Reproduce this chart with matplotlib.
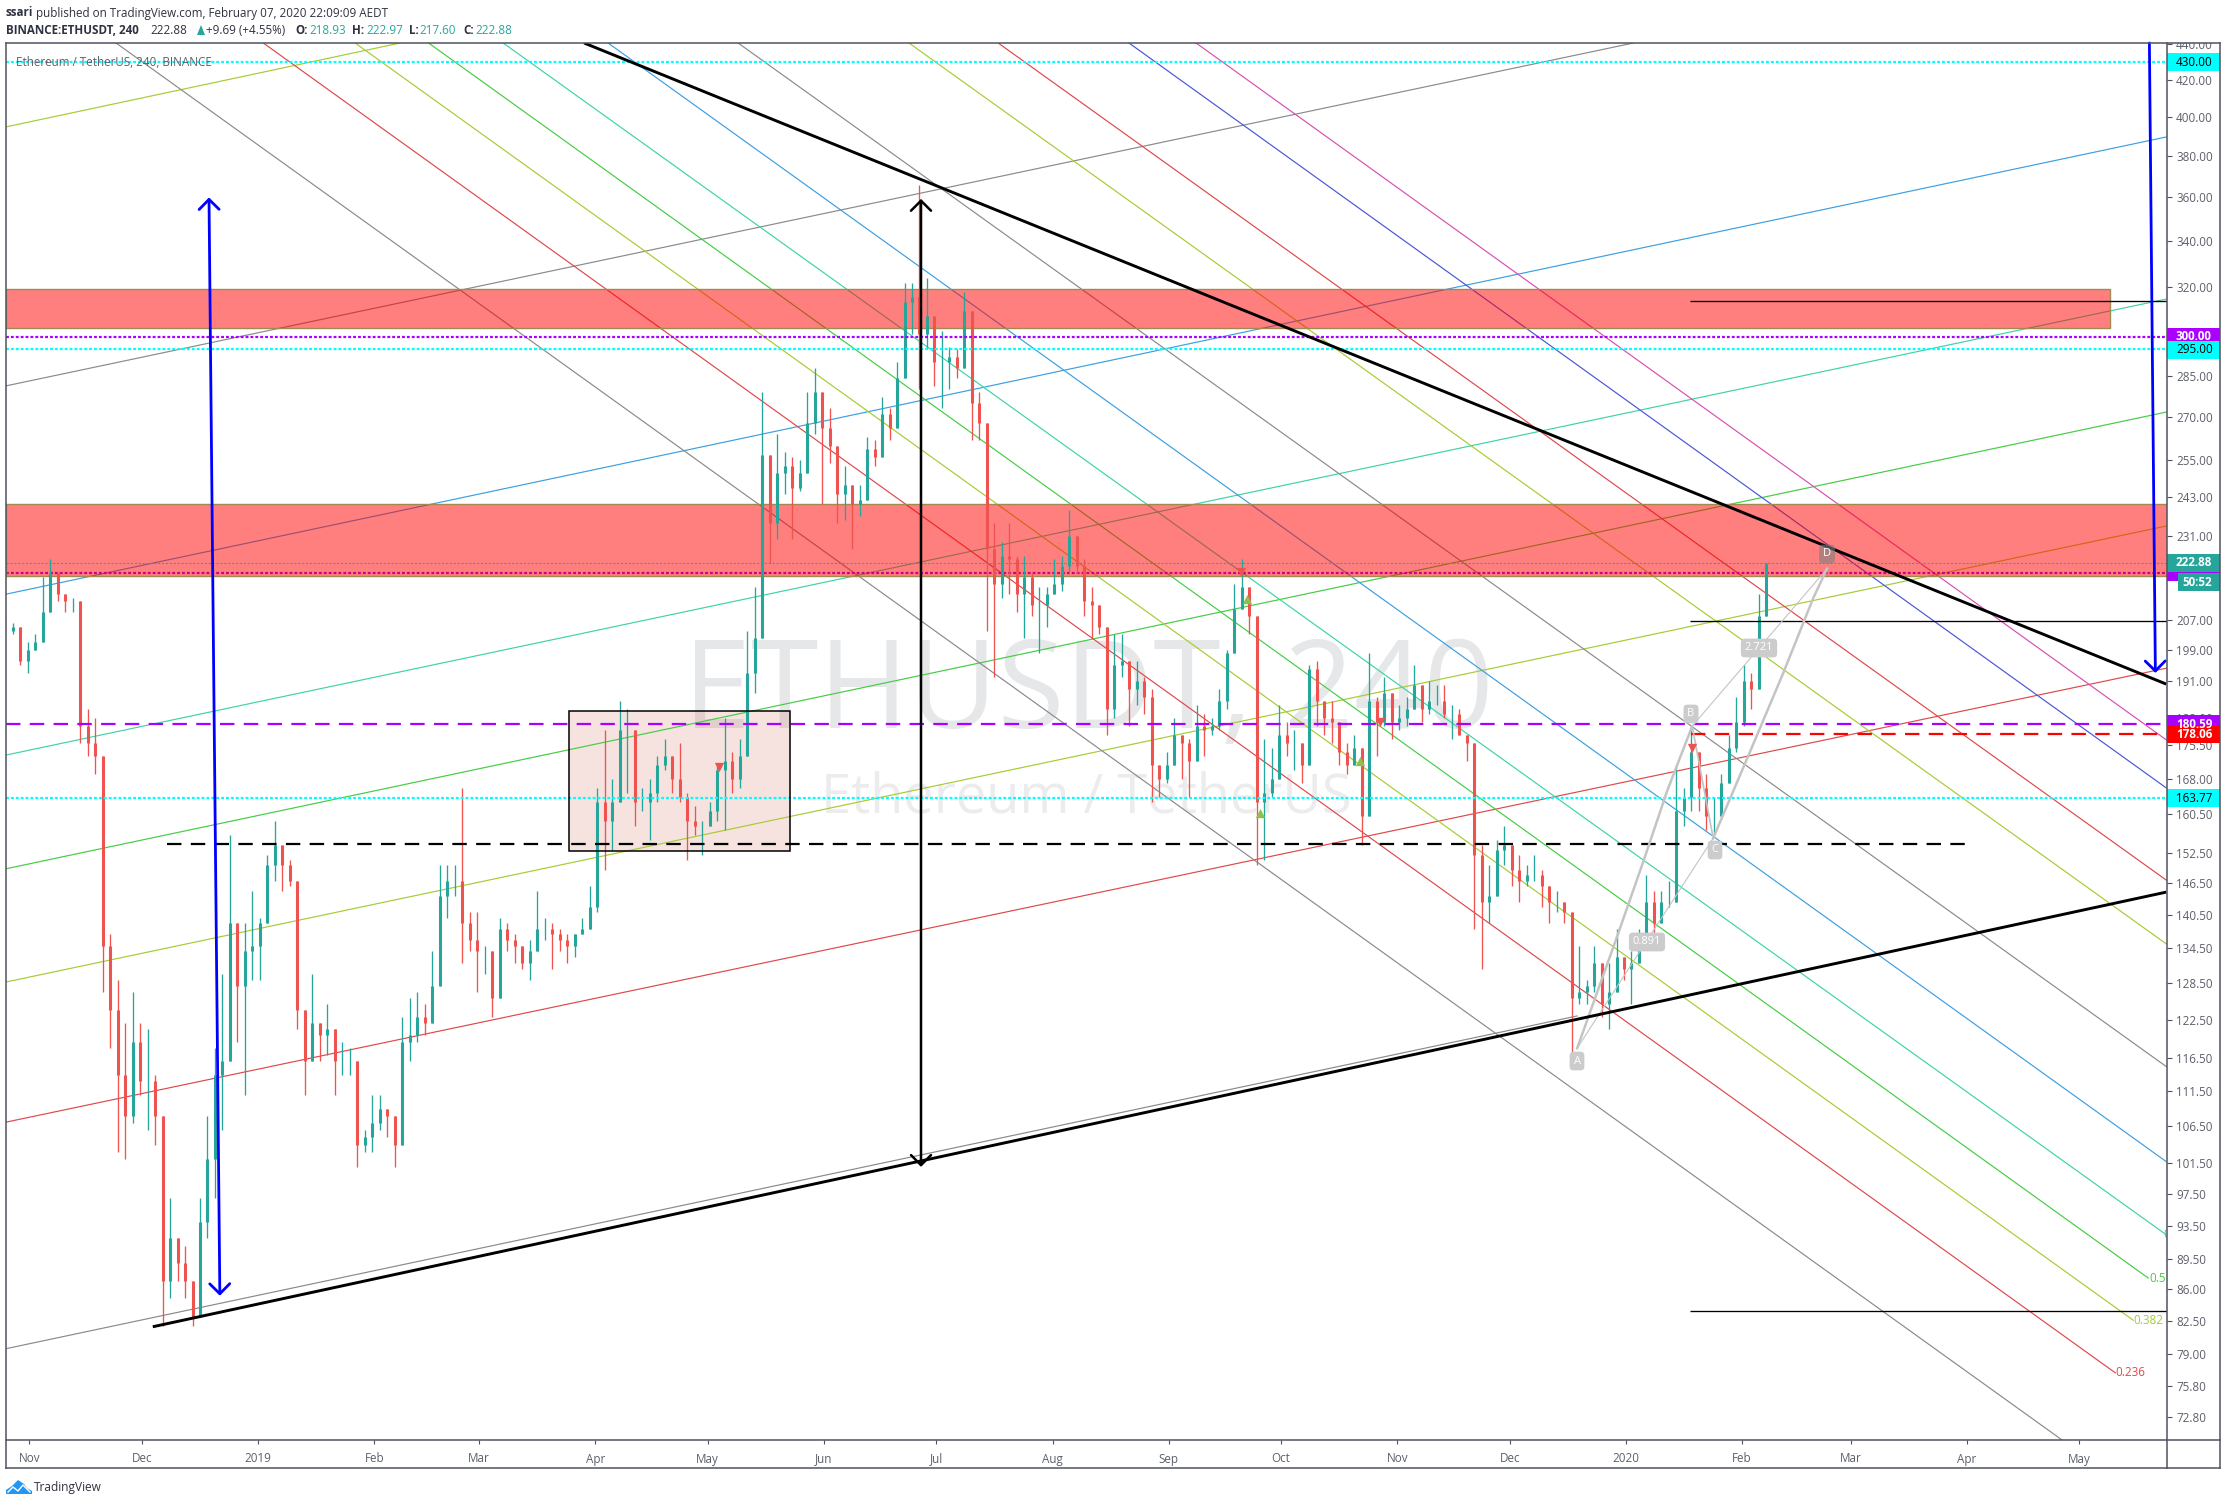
"""
plot.py - ETHUSDT 4h chart with fib fans, zones and ABCD pattern drawn on a log price axis.
"""

import matplotlib
matplotlib.use("Agg")
import matplotlib.dates as mdates
import matplotlib.pyplot as plt
import numpy as np
import pandas as pd
from matplotlib.lines import Line2D
from matplotlib.patches import Polygon, Rectangle
from matplotlib.ticker import FixedLocator, NullLocator
from matplotlib.transforms import Affine2D

W, H = 2227, 1505
FONT = "Open Sans"
plt.rcParams["font.family"] = [FONT, "DejaVu Sans"]

UP = "#26a69a"
DOWN = "#ef5350"
FRAME = "#50535e"
LABEL = "#5d606b"

# candles every two days, open is the previous close
highs = [
    209, 206, 205, 201, 203, 219, 224, 220, 214, 213,
    209, 184, 182, 169, 137, 129, 122, 127, 122, 121,
    114, 106, 97, 92, 91, 87, 97, 108, 118, 130,
    156, 135, 139, 145, 140, 152, 159, 154, 151, 134,
    124, 130, 122, 125, 120, 119, 118, 116, 106, 111,
    111, 109, 107, 123, 126, 127, 125, 134, 150, 150,
    150, 166, 141, 141, 135, 133, 140, 139, 137, 135,
    136, 145, 140, 139, 138, 137, 137, 140, 146, 166,
    179, 168, 186, 184, 168, 166, 168, 173, 177, 172,
    176, 165, 162, 159, 163, 171, 182, 174, 177, 204,
    216, 279, 246, 264, 258, 256, 255, 279, 288, 275,
    273, 253, 253, 247, 247, 263, 262, 277, 273, 290,
    322, 322, 366, 324, 305, 302, 296, 295, 318, 308,
    279, 261, 235, 229, 235, 225, 225, 220, 216, 216,
    224, 225, 239, 231, 224, 216, 211, 191, 203, 203,
    195, 196, 192, 189, 171, 174, 182, 178, 177, 185,
    183, 182, 189, 199, 217, 224, 213, 203, 177, 175,
    185, 181, 179, 176, 195, 196, 185, 186, 179, 176,
    178, 173, 198, 187, 192, 185, 185, 187, 195, 188,
    191, 190, 190, 185, 184, 177, 174, 154, 150, 155,
    158, 152, 152, 150, 152, 149, 145, 145, 143, 134,
    135, 129, 135, 128, 132, 138, 133, 134, 138, 148,
    145, 145, 147, 171, 166, 180, 170, 169, 164, 169,
    178, 187, 195, 193, 214, 222.97,
]
lows = [
    203, 203, 195, 193, 199, 207, 212, 212, 209, 209,
    176, 173, 169, 127, 118, 103, 102, 107, 111, 106,
    104, 82, 85, 87, 85, 82, 84, 92, 97, 106,
    120, 119, 111, 129, 129, 143, 147, 145, 146, 121,
    111, 116, 116, 117, 111, 114, 114, 101, 103, 103,
    106, 105, 101, 104, 116, 119, 120, 122, 131, 140,
    144, 132, 134, 127, 130, 123, 136, 134, 132, 131,
    129, 135, 136, 131, 134, 132, 133, 137, 140, 141,
    149, 153, 167, 165, 158, 161, 155, 163, 170, 165,
    163, 151, 156, 152, 158, 159, 157, 165, 166, 181,
    188, 219, 223, 230, 244, 230, 245, 263, 264, 241,
    254, 235, 236, 227, 237, 246, 253, 263, 262, 271,
    298, 301, 280, 295, 281, 273, 280, 284, 301, 262,
    262, 204, 192, 213, 214, 209, 202, 208, 198, 205,
    214, 215, 220, 220, 208, 202, 203, 178, 182, 192,
    180, 185, 183, 163, 164, 167, 173, 168, 164, 176,
    173, 178, 179, 184, 202, 212, 203, 150, 151, 164,
    172, 173, 170, 167, 180, 180, 178, 176, 171, 169,
    171, 154, 160, 173, 180, 177, 179, 180, 185, 181,
    183, 185, 182, 177, 178, 172, 138, 131, 139, 148,
    150, 146, 143, 146, 147, 142, 139, 141, 139, 116,
    125, 125, 127, 123, 121, 130, 129, 125, 133, 138,
    135, 141, 142, 143, 158, 161, 161, 157, 156, 161,
    170, 174, 180, 184, 190, 208,
]
closes = [
    204, 205, 196, 199, 201, 209, 220, 214, 212, 212,
    180, 176, 173, 135, 124, 114, 108, 119, 113, 113,
    108, 87, 92, 89, 87, 83, 94, 102, 114, 116,
    139, 128, 134, 135, 139, 150, 154, 150, 147, 124,
    116, 122, 120, 121, 116, 116, 116, 104, 105, 107,
    109, 108, 104, 119, 120, 123, 122, 128, 144, 147,
    147, 139, 136, 134, 134, 126, 138, 136, 135, 132,
    134, 138, 138, 137, 136, 135, 137, 138, 142, 163,
    159, 163, 179, 179, 163, 163, 165, 171, 173, 168,
    164, 159, 158, 158, 161, 170, 172, 168, 173, 193,
    202, 257, 235, 251, 253, 246, 251, 268, 279, 266,
    260, 244, 247, 241, 242, 259, 256, 271, 266, 284,
    314, 316, 301, 308, 290, 290, 292, 288, 310, 275,
    268, 227, 217, 225, 224, 214, 219, 211, 211, 214,
    217, 222, 231, 222, 212, 211, 205, 184, 195, 196,
    189, 191, 187, 171, 168, 171, 178, 176, 172, 180,
    179, 180, 186, 198, 210, 216, 208, 163, 165, 168,
    178, 176, 176, 171, 194, 186, 182, 181, 174, 171,
    175, 160, 186, 181, 188, 181, 182, 184, 190, 184,
    186, 186, 183, 183, 178, 176, 152, 143, 144, 153,
    154, 149, 147, 148, 148, 146, 143, 143, 141, 126,
    127, 128, 132, 125, 127, 133, 131, 132, 136, 143,
    139, 143, 143, 161, 164, 174, 166, 160, 160, 167,
    175, 181, 191, 189, 208, 222.88,
]

# rising fan: price at the left and at the right edge of the pane
up_left = [214, 173.3, 149.3, 128.7, 107.1]
up_right = [389.7, 315.1, 271.7, 234, 194.2]
up_colors = ["#3b9fe0", "#3dd3a5", "#44cc44", "#a5cc32", "#e04848"]

# other rising lines: day after 2018-11-01 and price at both ends
rise_days = [(-6.27, 428), (-6, 98.9), (-6, 413)]
rise_prices = [(281.2, 440.8), (395, 440.8), (79.6, 123.1)]
rise_colors = ["#8a8a8a", "#a5cc32", "#8a8a8a"]

# falling fan: start day at the top of the pane, end day and end price
fall_start = [23.1, 62.4, 86.9, 106.5, 126.4, 154.4, 189.1, 234.7, 258.5, 293.4, 311.3]
fall_end_day = [542.4, 556.6, 561.4, 565.4, 570.2, 570.2, 570.2, 570.2, 570.2, 570.2, 570.2]
fall_end_price = [70.6, 77.1, 82.6, 87.3, 92.4, 101.7, 115.2, 135.3, 147.1, 166, 176.8]
fall_colors = ["#8a8a8a", "#e04848", "#a5cc32", "#44cc44", "#3dd3a5", "#3b9fe0",
               "#8a8a8a", "#a5cc32", "#e04848", "#4a55d8", "#d94fb2"]

# thick trend lines
trend_days = [(32.9, 570.2), (148, 570.2)]
trend_prices = [(81.9, 144.8), (440.8, 190.2)]

# price levels
dotted_levels = [430, 295, 163.77]
purple_dotted = [300, 220]
last_price = 222.88
purple_dashed = 180.59
red_dashed = 178.06
black_dashed = 154.3
thin_levels = [314.3, 206.6, 83.6]

# zones
zone_prices = [(303.4, 319.3), (219.3, 240.8)]
zone_days = [(-6.27, 555.3), (-6.27, 570.4)]
range_box_days = (144, 203)
range_box_prices = (152.9, 183.7)

# ABCD pattern
ab_days = [413, 423.6, 430.6, 437, 443.7]
ab_prices = [118, 136.5, 150.6, 165.3, 180]
cd_days = [449.3, 459.2, 468, 476, 479.7]
cd_prices = [155.4, 174.2, 193, 212.9, 221.3]

# signal markers
green_days = [324.8, 328.4, 355]
green_prices = [212.6, 160.7, 172]
red_days = [323.3, 360.4, 184, 443.7]
red_prices = [220.3, 181, 170.5, 174.9]

price_ticks = [440, 420, 400, 380, 360, 340, 320, 285, 270, 255, 243, 231, 207, 199, 191,
               182, 175.5, 168, 160.5, 152.5, 146.5, 140.5, 134.5, 128.5, 122.5, 116.5,
               111.5, 106.5, 101.5, 97.5, 93.5, 89.5, 86, 82.5, 79, 75.8, 72.8]
month_ticks = ["2018-11-01", "2018-12-01", "2019-01-01", "2019-02-01", "2019-03-01",
               "2019-04-01", "2019-05-01", "2019-06-01", "2019-07-01", "2019-08-01",
               "2019-09-01", "2019-10-01", "2019-11-01", "2019-12-01", "2020-01-01",
               "2020-02-01", "2020-03-01", "2020-04-01", "2020-05-01"]
month_labels = ["Nov", "Dec", "2019", "Feb", "Mar", "Apr", "May", "Jun", "Jul", "Aug",
                "Sep", "Oct", "Nov", "Dec", "2020", "Feb", "Mar", "Apr", "May"]

BASE = mdates.date2num(pd.Timestamp("2018-11-01"))


def day(d):
    return BASE + np.asarray(d, dtype=float)


def draw_candles(ax):
    c = np.array(closes, dtype=float)
    o = np.r_[c[0], c[:-1]]
    hi = np.maximum(np.array(highs, dtype=float), np.maximum(o, c))
    lo = np.minimum(np.array(lows, dtype=float), np.minimum(o, c))
    x = mdates.date2num(pd.date_range("2018-10-25 12:00", periods=len(c), freq="2D"))
    colors = [UP if a >= b else DOWN for a, b in zip(c, o)]
    ax.vlines(x, lo, hi, colors=colors, lw=0.95, zorder=4)
    ax.vlines(x, np.minimum(o, c), np.maximum(o, c), colors=colors, lw=2.2, zorder=4)


def draw_lines(ax):
    for a, b, col in zip(up_left, up_right, up_colors):
        ax.plot(day([-6.27, 570.2]), [a, b], color=col, lw=0.85, zorder=2)
    for d, p, col in zip(rise_days, rise_prices, rise_colors):
        ax.plot(day(d), p, color=col, lw=0.85, zorder=2)
    for s, e, p, col in zip(fall_start, fall_end_day, fall_end_price, fall_colors):
        ax.plot(day([s, e]), [440.8, p], color=col, lw=0.85, zorder=2)
    for d, p in zip(trend_days, trend_prices):
        ax.plot(day(d), p, color="black", lw=2.1, zorder=6, solid_capstyle="butt")


def draw_levels(ax):
    left, right = ax.get_xlim()
    dots = (0, (1.3, 0.9))
    dash = (0, (6.5, 4.2))
    for p in dotted_levels:
        ax.hlines(p, left, right, color="#00ffff", lw=1.6, linestyles=[dots], zorder=5)
    ax.hlines(purple_dotted[0], left, right, color="#aa00ff", lw=1.6, linestyles=[dots], zorder=5)
    ax.hlines(purple_dotted[1], left, right, color="#aa00ff", lw=1.6, linestyles=[dots], zorder=2.5)
    ax.hlines(last_price, left, right, color=UP, lw=0.8, linestyles=[(0, (2, 1.5))], zorder=5)
    ax.hlines(purple_dashed, left, right, color="#aa00ff", lw=1.6, linestyles=[dash], zorder=5)
    ax.hlines(red_dashed, day(443.5), right, color="#ff0000", lw=1.6, linestyles=[dash], zorder=5)
    ax.hlines(black_dashed, day(36.7), day(518), color="black", lw=1.6, linestyles=[dash], zorder=5)
    for p in thin_levels:
        ax.hlines(p, day(443.2), right, color="black", lw=0.95, zorder=5)


def draw_zones(ax):
    for d, p in zip(zone_days, zone_prices):
        ax.add_patch(Rectangle((day(d[0]), p[0]), d[1] - d[0], p[1] - p[0],
                               facecolor=(1, 0, 0, 0.5), edgecolor="#a08a50", lw=1, zorder=3))
    d, p = range_box_days, range_box_prices
    ax.add_patch(Rectangle((day(d[0]), p[0]), d[1] - d[0], p[1] - p[0],
                           facecolor=(0.78, 0.33, 0.25, 0.16), edgecolor="none", zorder=1.5))
    ax.add_patch(Rectangle((day(d[0]), p[0]), d[1] - d[0], p[1] - p[0],
                           facecolor="none", edgecolor="black", lw=1.1, zorder=5))


def draw_arrows(ax):
    head = "<->,head_length=0.72,head_width=0.72"
    one_head = "->,head_length=0.72,head_width=0.72"
    ax.annotate("", xy=(day(237.9), 101), xytext=(day(237.9), 359.3), zorder=7,
                arrowprops=dict(arrowstyle=head, color="black", lw=1.8, shrinkA=0, shrinkB=0,
                                mutation_scale=10))
    ax.annotate("", xy=(day(50.8), 85.3), xytext=(day(47.9), 360), zorder=7,
                arrowprops=dict(arrowstyle=head, color="#0000ff", lw=2.0, shrinkA=0, shrinkB=0,
                                mutation_scale=10))
    ax.annotate("", xy=(day(567.3), 193), xytext=(day(565.7), 440.8), zorder=7,
                arrowprops=dict(arrowstyle=one_head, color="#0000ff", lw=2.0, shrinkA=0, shrinkB=0,
                                mutation_scale=10))


def draw_pattern(ax, px):
    grey = "#c4c4c4"
    ax.plot(day(ab_days), ab_prices, color=grey, lw=1.8, zorder=5)
    ax.plot(day(cd_days), cd_prices, color=grey, lw=1.8, zorder=5)
    ax.plot(day([ab_days[0], cd_days[0]]), [ab_prices[0], cd_prices[0]], color=grey, lw=0.8, zorder=5)
    ax.plot(day([ab_days[-1], cd_days[-1]]), [ab_prices[-1], cd_prices[-1]], color=grey, lw=0.8, zorder=5)
    ax.plot(day([ab_days[-1], cd_days[0]]), [ab_prices[-1], cd_prices[0]], color=grey, lw=1.2, zorder=5)
    boxes = [("A", 1577, 1061), ("B", 1691, 714), ("C", 1715, 850),
             ("0.891", 1647, 942), ("2.721", 1759, 648)]
    for s, x, y in boxes:
        ax.text(x, y, s, transform=px, color="white", fontsize=8, ha="center", va="center", zorder=8,
                bbox=dict(boxstyle="round,pad=0.35", fc="#cccccc", ec="none"))
    ax.text(1827, 554, "D", transform=px, color="white", fontsize=8, ha="center", va="center", zorder=8,
            bbox=dict(boxstyle="round,pad=0.35", fc=(0.5, 0.5, 0.5, 0.6), ec="none"))
    ax.scatter(day(green_days), green_prices, marker="^", s=45, color="#8bc34a", lw=0, zorder=5)
    ax.scatter(day(red_days), red_prices, marker="v", s=45, color="#ef5350", lw=0, zorder=5)


def draw_watermark(ax, px):
    ax.text(1088, 696, "ETHUSDT, 240", transform=px, color="#e6e7e9", fontsize=88,
            ha="center", va="center", zorder=0.5)
    ax.text(1086, 798, "Ethereum / TetherUS", transform=px, color="#ececee", fontsize=39,
            ha="center", va="center", zorder=0.5)


def draw_fib_labels(ax, px):
    labels = [("0.236", 2115, 1372, "#e04848"), ("0.382", 2133, 1320, "#a5cc32"),
              ("0.5", 2149, 1278, "#44cc44"), ("0.618", 2163, 1235, "#3dd3a5")]
    for s, x, y, col in labels:
        ax.text(x, y, s, transform=px, color=col, fontsize=8.4, ha="left", va="center",
                clip_on=True, zorder=5)


def draw_header(fig, px):
    y1, y2 = 13, 30
    dark = "#2f3240"
    parts = [(6, y1, "ssari", dark, "bold"),
             (36, y1, "published on TradingView.com, February 07, 2020 22:09:09 AEDT", dark, "normal"),
             (6, y2, "BINANCE:ETHUSDT, 240", dark, "bold"),
             (150, y2, "222.88", dark, "normal"),
             (206, y2, "+9.69 (+4.55%)", dark, "normal"),
             (295, y2, "O:", dark, "bold"), (309, y2, "218.93", UP, "normal"),
             (352, y2, "H:", dark, "bold"), (366, y2, "222.97", UP, "normal"),
             (409, y2, "L:", dark, "bold"), (419, y2, "217.60", UP, "normal"),
             (463, y2, "C:", dark, "bold"), (475, y2, "222.88", UP, "normal")]
    for x, y, s, col, weight in parts:
        fig.text(x, y, s, transform=px, color=col, fontweight=weight, fontsize=8.4, va="center")
    fig.add_artist(Polygon([(197, 35), (201, 25), (205, 35)], transform=px, fc=UP, ec="none"))
    fig.text(16, 62, "Ethereum / TetherUS, 240, BINANCE", transform=px, color=LABEL,
             fontsize=8.4, va="center", zorder=6)


def draw_badges(fig, px):
    # y top, y bottom, x left, colour, text, text colour
    badges = [(53, 71, 2167, "#00ffff", "430.00", "black"),
              (327.5, 345.5, 2167, "#aa00ff", "300.00", "white"),
              (340.5, 358.5, 2167, "#00ffff", "295.00", "black"),
              (715, 733, 2167, "#aa00ff", "180.59", "white"),
              (725, 743, 2167, "#ff0000", "178.06", "white"),
              (789, 807, 2167, "#00ffff", "163.77", "black"),
              (565, 581, 2167, "#aa00ff", "", "white"),
              (554, 572, 2167, UP, "222.88", "white"),
              (573, 591, 2178, UP, "50:52", "white")]
    for i, (top, bottom, left, col, s, tc) in enumerate(badges):
        fig.add_artist(Rectangle((left, top), 2220 - left, bottom - top, transform=px,
                                 fc=col, ec="none", zorder=2 + i * 0.01))
        if s:
            x = 2176 if left == 2167 else 2182
            fig.text(x, (top + bottom) / 2, s, transform=px, color=tc, fontsize=8.4,
                     fontweight="bold" if tc == "white" else "normal", va="center",
                     ha="left", zorder=3 + i * 0.01)


def draw_frame(fig, px):
    # white strip hides the top of the clipped 440 label
    fig.add_artist(Rectangle((2168, 30), 51, 13, transform=px, fc="white", ec="none", zorder=4))
    segs = [((6, 43), (2220, 43)), ((6, 43), (6, 1468)), ((2220, 43), (2220, 1468)),
            ((2167, 43), (2167, 1468)), ((6, 1468), (2220, 1468)), ((6, 1440), (2220, 1440))]
    for a, b in segs:
        fig.add_artist(Line2D([a[0], b[0]], [a[1], b[1]], transform=px, color=FRAME, lw=1.1, zorder=5))


def draw_logo(fig, px):
    cloud = [(6, 1494), (6, 1490), (12, 1486), (18, 1480), (24, 1484), (27, 1488), (32, 1491), (32, 1494)]
    fig.add_artist(Polygon(cloud, transform=px, fc="#2196f3", ec="none"))
    fig.add_artist(Line2D([8, 13, 18, 23, 30], [1492, 1487, 1491, 1485, 1492], transform=px,
                          color="white", lw=1.0))
    fig.text(34, 1487, "TradingView", transform=px, color="#2f3240", fontsize=8.6, va="center")


def main():
    fig = plt.figure(figsize=(W / 100, H / 100), dpi=100, facecolor="white")
    px = Affine2D().scale(1 / W, -1 / H).translate(0, 1) + fig.transFigure
    ax = fig.add_axes([6 / W, 1 - 1440 / H, 2161 / W, 1397 / H])
    ax.set_yscale("log")
    ax.set_xlim(BASE - 6.27, BASE + 570.4)
    ax.set_ylim(70.6, 440.8)

    draw_watermark(ax, px)
    draw_lines(ax)
    draw_levels(ax)
    draw_zones(ax)
    draw_candles(ax)
    draw_arrows(ax)
    draw_pattern(ax, px)
    draw_fib_labels(ax, px)

    ax.yaxis.tick_right()
    ax.yaxis.set_major_locator(FixedLocator(price_ticks))
    ax.yaxis.set_minor_locator(NullLocator())
    ax.set_yticklabels([f"{v:.2f}" for v in price_ticks])
    ax.tick_params(axis="y", length=3.6, width=0.8, color=FRAME, labelcolor=LABEL, labelsize=8.4, pad=3)
    ax.set_xticks(mdates.date2num(pd.to_datetime(month_ticks)))
    ax.set_xticklabels(month_labels)
    ax.xaxis.set_minor_locator(NullLocator())
    ax.tick_params(axis="x", length=3, width=0.8, color=FRAME, labelcolor=LABEL, labelsize=8.4, pad=6)
    for s in ax.spines.values():
        s.set_visible(False)

    draw_header(fig, px)
    draw_badges(fig, px)
    draw_frame(fig, px)
    draw_logo(fig, px)

    fig.savefig("out.png", dpi=100, facecolor="white")
    plt.close(fig)


if __name__ == "__main__":
    main()
